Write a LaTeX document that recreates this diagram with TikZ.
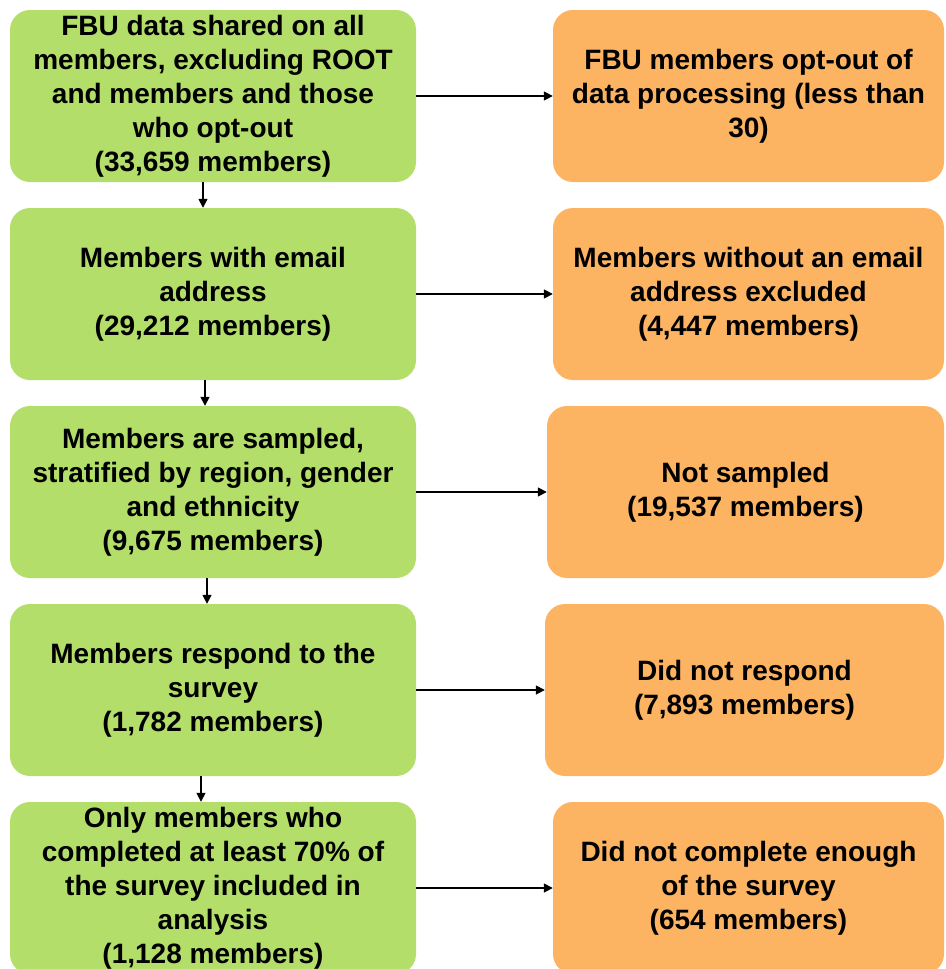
\documentclass[tikz,border=0pt]{standalone}
\usepackage{fontspec}
\setmainfont{Liberation Sans}
\usepackage{xcolor}
\usetikzlibrary{arrows.meta,positioning}
\definecolor{keepgreen}{HTML}{B3DE69}
\definecolor{droporange}{HTML}{FDB462}
\tikzset{
  kept/.style={fill=keepgreen, rounded corners=20pt, minimum width=406pt,
               minimum height=172pt, align=center, inner sep=0pt,
               font=\fontsize{28}{34}\selectfont\bfseries},
  dropped/.style={fill=droporange, rounded corners=20pt, minimum width=391pt,
                  minimum height=172pt, align=center, inner sep=0pt,
                  font=\fontsize{28}{34}\selectfont\bfseries},
  flow/.style={-{Triangle[length=9pt,width=9pt]}, line width=1.6pt}
}
\begin{document}
\begin{tikzpicture}[x=1pt,y=-1pt]
  \useasboundingbox (0,0) rectangle (945,969);
  % included members
  \node[kept] (all) at (213,96) {FBU data shared on all\\members, excluding ROOT\\and members and those\\who opt-out\\(33,659 members)};
  \node[kept] (email) at (213,294) {Members with email\\address\\(29,212 members)};
  \node[kept] (sampled) at (213,492) {Members are sampled,\\stratified by region, gender\\and ethnicity\\(9,675 members)};
  \node[kept] (respond) at (213,690) {Members respond to the\\survey\\(1,782 members)};
  \node[kept] (analysis) at (213,888) {Only members who\\completed at least 70\% of\\the survey included in\\analysis\\(1,128 members)};
  % excluded members
  \node[dropped] (optout) at (748.5,96) {FBU members opt-out of\\data processing (less than\\30)};
  \node[dropped] (noemail) at (748.5,294) {Members without an email\\address excluded\\(4,447 members)};
  \node[dropped, minimum width=397pt] (notsampled) at (745.5,492) {Not sampled\\(19,537 members)};
  \node[dropped, minimum width=399pt] (noreply) at (744.5,690) {Did not respond\\(7,893 members)};
  \node[dropped] (partial) at (748.5,888) {Did not complete enough\\of the survey\\(654 members)};
  % connectors
  \draw[flow] ([xshift=-10pt]all.south) -- ([xshift=-10pt]email.north);
  \draw[flow] ([xshift=-8pt]email.south) -- ([xshift=-8pt]sampled.north);
  \draw[flow] ([xshift=-6pt]sampled.south) -- ([xshift=-6pt]respond.north);
  \draw[flow] ([xshift=-12pt]respond.south) -- ([xshift=-12pt]analysis.north);
  \draw[flow] (all) -- (optout);
  \draw[flow] (email) -- (noemail);
  \draw[flow] (sampled) -- (notsampled);
  \draw[flow] (respond) -- (noreply);
  \draw[flow] (analysis) -- (partial);
\end{tikzpicture}
\end{document}
